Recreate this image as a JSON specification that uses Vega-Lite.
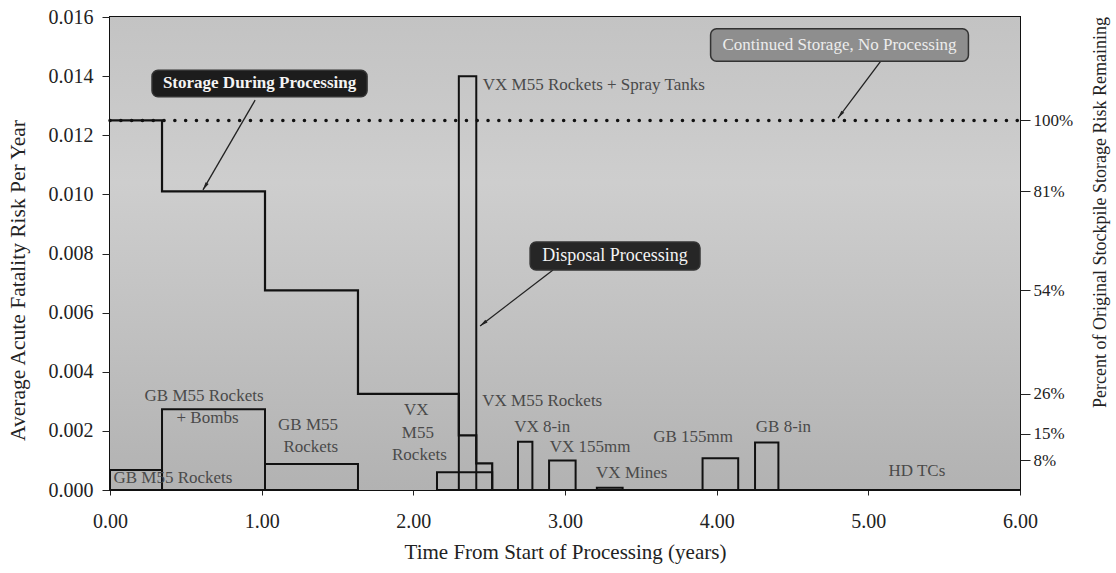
{
  "$schema": "https://vega.github.io/schema/vega-lite/v6.json",
  "width": 910,
  "height": 473,
  "autosize": "none",
  "padding": {"left": 110, "top": 17, "right": 96, "bottom": 83},
  "background": "white",
  "config": {
    "view": {"stroke": "#111", "strokeWidth": 2},
    "font": "Liberation Serif",
    "axis": {"labelFont": "Liberation Serif", "titleFont": "Liberation Serif", "labelColor": "#222", "titleColor": "#222", "tickColor": "#222", "grid": false, "domain": false, "titleFontWeight": "normal"}
  },
  "datasets": {
    "plotArea": [{"t": 0, "t2": 6, "risk": 0, "risk2": 0.016}],
    "storage": [
      {"t": 0, "risk": 0.0125},
      {"t": 0.343, "risk": 0.0101},
      {"t": 1.022, "risk": 0.00675},
      {"t": 1.635, "risk": 0.00325},
      {"t": 2.3, "risk": 0.00185},
      {"t": 2.415, "risk": 0.0009},
      {"t": 2.52, "risk": 0},
      {"t": 6, "risk": 0}
    ],
    "noProcessing": [{"t": 0, "risk": 0.0125}, {"t": 6, "risk": 0.0125}],
    "disposal": [
      {"campaign": "GB M55 Rockets", "t": 0, "t2": 0.343, "risk": 0.00068},
      {"campaign": "GB M55 Rockets + Bombs", "t": 0.343, "t2": 1.022, "risk": 0.00273},
      {"campaign": "GB M55 Rockets", "t": 1.022, "t2": 1.635, "risk": 0.00088},
      {"campaign": "VX M55 Rockets", "t": 2.156, "t2": 2.52, "risk": 0.0006},
      {"campaign": "VX M55 Rockets + Spray Tanks", "t": 2.3, "t2": 2.415, "risk": 0.014},
      {"campaign": "VX 8-in", "t": 2.69, "t2": 2.785, "risk": 0.00163},
      {"campaign": "VX 155mm", "t": 2.895, "t2": 3.07, "risk": 0.001},
      {"campaign": "VX Mines", "t": 3.21, "t2": 3.38, "risk": 0.00008},
      {"campaign": "GB 155mm", "t": 3.907, "t2": 4.142, "risk": 0.00107},
      {"campaign": "GB 8-in", "t": 4.253, "t2": 4.407, "risk": 0.00161}
    ],
    "labels": [
      {"label": "GB M55 Rockets", "t": 0.415, "risk": 0.0004},
      {"label": "GB M55 Rockets", "t": 0.62, "risk": 0.00318},
      {"label": "+ Bombs", "t": 0.643, "risk": 0.00244},
      {"label": "GB M55", "t": 1.306, "risk": 0.0022},
      {"label": "Rockets", "t": 1.324, "risk": 0.00147},
      {"label": "VX", "t": 2.02, "risk": 0.0027},
      {"label": "M55", "t": 2.03, "risk": 0.00193},
      {"label": "Rockets", "t": 2.04, "risk": 0.00118},
      {"label": "VX M55 Rockets", "t": 2.85, "risk": 0.003},
      {"label": "VX 8-in", "t": 2.85, "risk": 0.00213},
      {"label": "VX 155mm", "t": 3.165, "risk": 0.00147},
      {"label": "VX Mines", "t": 3.44, "risk": 0.00059},
      {"label": "GB 155mm", "t": 3.845, "risk": 0.00178},
      {"label": "GB 8-in", "t": 4.44, "risk": 0.00212},
      {"label": "HD TCs", "t": 5.32, "risk": 0.00065},
      {"label": "VX M55 Rockets + Spray Tanks", "t": 3.19, "risk": 0.0137}
    ],
    "arrows": [
      {"arrow": "storage", "t": 0.957, "risk": 0.01319, "t2": 0.613, "risk2": 0.01015},
      {"arrow": "disposal", "t": 2.921, "risk": 0.00744, "t2": 2.44, "risk2": 0.00555},
      {"arrow": "continued", "t": 5.097, "risk": 0.01461, "t2": 4.8, "risk2": 0.01258}
    ],
    "boxes": [
      {"box": "storage", "text": "Storage During Processing", "t": 0.277, "t2": 1.695, "risk": 0.0133, "risk2": 0.0142, "tc": 0.986, "rc": 0.01377},
      {"box": "disposal", "text": "Disposal Processing", "t": 2.77, "t2": 3.89, "risk": 0.00744, "risk2": 0.00839, "tc": 3.33, "rc": 0.00792},
      {"box": "continued", "text": "Continued Storage, No Processing", "t": 3.96, "t2": 5.66, "risk": 0.0145, "risk2": 0.0156, "tc": 4.81, "rc": 0.01505}
    ]
  },
  "layer": [
    {
      "layer": [
        {
          "data": {"name": "plotArea"},
          "mark": {"type": "rect", "color": {"gradient": "linear", "x1": 0, "y1": 0, "x2": 0, "y2": 1, "stops": [{"offset": 0, "color": "#c3c3c3"}, {"offset": 0.35, "color": "#cecece"}, {"offset": 1, "color": "#b2b2b2"}]}},
          "encoding": {
            "x": {"field": "t", "type": "quantitative", "scale": {"domain": [0, 6], "nice": false},
                  "axis": {"title": "Time From Start of Processing (years)", "values": [0, 1, 2, 3, 4, 5, 6], "format": ".2f", "labelFontSize": 20, "titleFontSize": 21, "tickSize": 5, "labelPadding": 16, "titleY": 62, "titleBaseline": "middle", "labelFlush": false}},
            "x2": {"field": "t2"},
            "y": {"field": "risk", "type": "quantitative", "scale": {"domain": [0, 0.016], "nice": false},
                  "axis": {"title": "Average Acute Fatality Risk Per Year", "values": [0, 0.002, 0.004, 0.006, 0.008, 0.01, 0.012, 0.014, 0.016], "format": ".3f", "labelFontSize": 20, "titleFontSize": 21.5, "tickSize": 8, "labelPadding": 9, "titleX": -92, "titleY": 263, "titleBaseline": "middle", "labelFlush": false}},
            "y2": {"field": "risk2"}
          }
        },
        {
          "data": {"name": "disposal"},
          "mark": {"type": "rect", "fillOpacity": 0, "stroke": "#111", "strokeWidth": 2},
          "encoding": {
            "x": {"field": "t", "type": "quantitative"},
            "x2": {"field": "t2"},
            "y": {"field": "risk", "type": "quantitative"},
            "y2": {"datum": 0}
          }
        },
        {
          "data": {"name": "storage"},
          "mark": {"type": "line", "interpolate": "step-after", "color": "#111", "strokeWidth": 2.2},
          "encoding": {
            "x": {"field": "t", "type": "quantitative"},
            "y": {"field": "risk", "type": "quantitative"}
          }
        },
        {
          "data": {"name": "labels"},
          "mark": {"type": "text", "fontSize": 17, "color": "#4a4a4a", "align": "center", "baseline": "middle"},
          "encoding": {
            "x": {"field": "t", "type": "quantitative"},
            "y": {"field": "risk", "type": "quantitative"},
            "text": {"field": "label"}
          }
        },
        {
          "data": {"name": "arrows"},
          "mark": {"type": "rule", "color": "#222", "strokeWidth": 1.3},
          "encoding": {
            "x": {"field": "t", "type": "quantitative"},
            "y": {"field": "risk", "type": "quantitative"},
            "x2": {"field": "t2"},
            "y2": {"field": "risk2"}
          }
        },
        {
          "data": {"name": "arrows"},
          "transform": [{"filter": "datum.arrow == 'storage'"}],
          "mark": {"type": "point", "shape": "M0,0 L0.45,2 L-0.45,2 Z", "size": 64, "filled": true, "color": "#222", "opacity": 1, "angle": 211},
          "encoding": {
            "x": {"field": "t2", "type": "quantitative"},
            "y": {"field": "risk2", "type": "quantitative"}
          }
        },
        {
          "data": {"name": "arrows"},
          "transform": [{"filter": "datum.arrow == 'disposal'"}],
          "mark": {"type": "point", "shape": "M0,0 L0.45,2 L-0.45,2 Z", "size": 64, "filled": true, "color": "#222", "opacity": 1, "angle": 232.5},
          "encoding": {
            "x": {"field": "t2", "type": "quantitative"},
            "y": {"field": "risk2", "type": "quantitative"}
          }
        },
        {
          "data": {"name": "arrows"},
          "transform": [{"filter": "datum.arrow == 'continued'"}],
          "mark": {"type": "point", "shape": "M0,0 L0.45,2 L-0.45,2 Z", "size": 64, "filled": true, "color": "#222", "opacity": 1, "angle": 217},
          "encoding": {
            "x": {"field": "t2", "type": "quantitative"},
            "y": {"field": "risk2", "type": "quantitative"}
          }
        },
        {
          "data": {"name": "boxes"},
          "mark": {"type": "rect", "cornerRadius": 6, "stroke": "#333", "strokeWidth": 1.5},
          "encoding": {
            "x": {"field": "t", "type": "quantitative"},
            "x2": {"field": "t2"},
            "y": {"field": "risk", "type": "quantitative"},
            "y2": {"field": "risk2"},
            "color": {"field": "box", "type": "nominal", "scale": {"domain": ["storage", "disposal", "continued"], "range": ["#1c1c1c", "#262626", "#8e8e8e"]}, "legend": null}
          }
        },
        {
          "data": {"name": "boxes"},
          "transform": [{"filter": "datum.box == 'storage'"}],
          "mark": {"type": "text", "fontSize": 17, "fontWeight": "bold", "color": "#f4f4f4", "align": "center", "baseline": "middle"},
          "encoding": {
            "x": {"field": "tc", "type": "quantitative"},
            "y": {"field": "rc", "type": "quantitative"},
            "text": {"field": "text"}
          }
        },
        {
          "data": {"name": "boxes"},
          "transform": [{"filter": "datum.box == 'disposal'"}],
          "mark": {"type": "text", "fontSize": 18, "color": "#f4f4f4", "align": "center", "baseline": "middle"},
          "encoding": {
            "x": {"field": "tc", "type": "quantitative"},
            "y": {"field": "rc", "type": "quantitative"},
            "text": {"field": "text"}
          }
        },
        {
          "data": {"name": "boxes"},
          "transform": [{"filter": "datum.box == 'continued'"}],
          "mark": {"type": "text", "fontSize": 17, "color": "#ececec", "align": "center", "baseline": "middle"},
          "encoding": {
            "x": {"field": "tc", "type": "quantitative"},
            "y": {"field": "rc", "type": "quantitative"},
            "text": {"field": "text"}
          }
        }
      ]
    },
    {
      "data": {"name": "noProcessing"},
      "mark": {"type": "line", "color": "#111", "strokeWidth": 3.5, "strokeCap": "round", "strokeDash": [0.1, 10.7]},
      "encoding": {
        "x": {"field": "t", "type": "quantitative"},
        "y": {"field": "risk", "type": "quantitative", "scale": {"domain": [0, 0.016], "nice": false},
              "axis": {"orient": "right", "title": "Percent of Original Stockpile Storage Risk Remaining", "values": [0.0125, 0.0101, 0.00675, 0.00325, 0.0019, 0.001], "labelExpr": "format(datum.value / 0.0125 * 100, '.0f') + '%'", "labelFontSize": 17, "titleFontSize": 18, "tickSize": 10, "labelPadding": 3, "titleAngle": 270, "titleX": 80, "titleY": 195, "titleBaseline": "middle", "titleAlign": "center", "labelFlush": false}}
      }
    }
  ],
  "resolve": {"scale": {"y": "independent"}}
}
